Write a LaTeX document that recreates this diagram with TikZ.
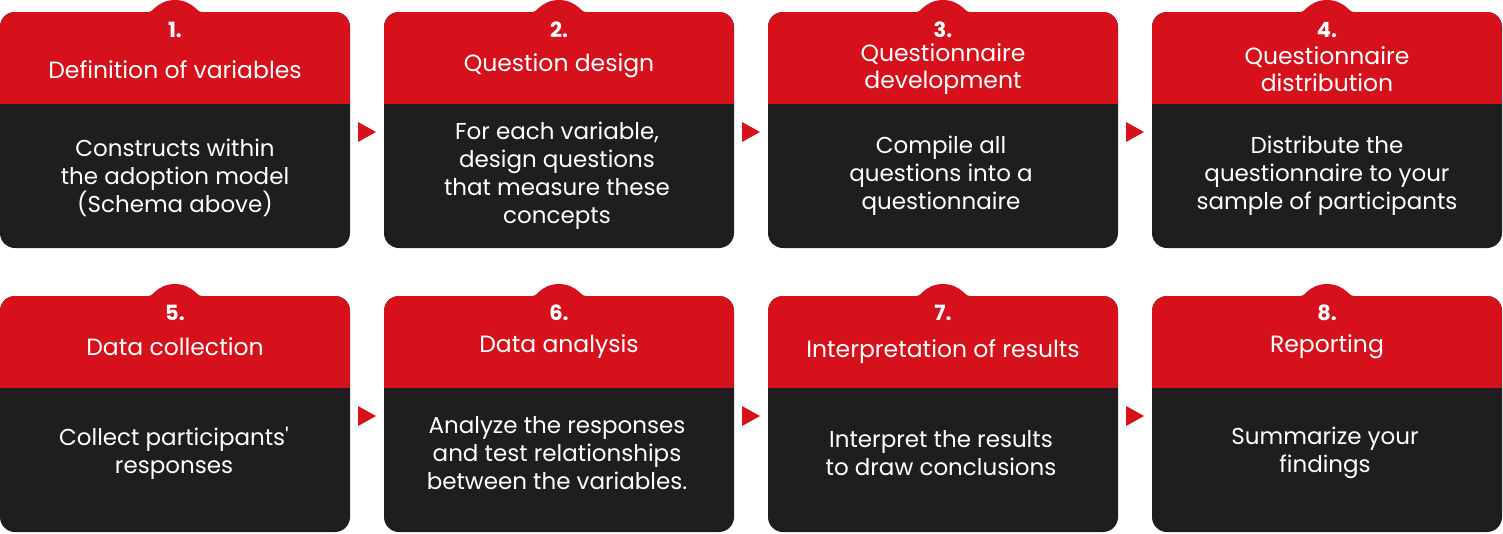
\documentclass[tikz,border=0pt]{standalone}
\usepackage{fontspec}
\setmainfont{Poppins}
\definecolor{cardred}{HTML}{D7111C}
\definecolor{cardblack}{HTML}{1E1E1E}
\tikzset{
  numtext/.style={text=white,inner sep=0pt,font=\bfseries\fontsize{21}{24}\selectfont},
  titletext/.style={text=white,inner sep=0pt,align=center,font=\fontsize{23.5}{27}\selectfont},
  bodytext/.style={text=white,inner sep=0pt,align=center,font=\fontsize{23}{28}\selectfont},
}
% card: #1 name, #2 left x, #3 top y
\newcommand\stepcard[3]{%
  % tab on top, with small fillets where it meets the card
  \fill[cardred] (#2+147.3,#3-2.5) rectangle (#2+202.7,#3);
  \fill[white] (#2+147.3,#3-8) circle[radius=8];
  \fill[white] (#2+202.7,#3-8) circle[radius=8];
  \fill[cardred] (#2+175,#3+18) circle[radius=30];
  % body of the card
  \fill[cardblack,rounded corners=15] (#2,#3) rectangle (#2+350,#3+236);
  \begin{scope}
    \clip[rounded corners=15] (#2,#3) rectangle (#2+350,#3+236);
    \fill[cardred] (#2,#3) rectangle (#2+350,#3+92);
  \end{scope}
  \coordinate (#1) at (#2+175,#3);
}
% small triangle pointing to the next card
\newcommand\nextmark[1]{%
  \fill[cardred] (#1) ++(-9,-10) -- ++(18,10) -- ++(-18,10) -- cycle;
}
\begin{document}
\begin{tikzpicture}[x=1pt,y=-1pt]
\useasboundingbox (0,0) rectangle (1503,533);
\stepcard{c1}{0}{12}
\stepcard{c2}{384}{12}
\stepcard{c3}{768}{12}
\stepcard{c4}{1152}{12}
\stepcard{c5}{0}{296}
\stepcard{c6}{384}{296}
\stepcard{c7}{768}{296}
\stepcard{c8}{1152}{296}

% row 1
\node[numtext] (n1) at (175,30) {1.};
\node[titletext] (t1) at (175,69.5) {Definition of variables};
\node[bodytext] (b1) at (175,178) {Constructs within\\the adoption model\\(Schema above)};

\node[numtext] (n2) at (559,30) {2.};
\node[titletext] (t2) at (559,65.5) {Question design};
\node[bodytext] (b2) at (557,176) {For each variable,\\design questions\\that measure these\\concepts};

\node[numtext] (n3) at (943,30) {3.};
\node[titletext] (t3) at (943,69) {Questionnaire\\development};
\node[bodytext] (b3) at (941,176) {Compile all\\questions into a\\questionnaire};

\node[numtext] (n4) at (1327,30) {4.};
\node[titletext] (t4) at (1327,69) {Questionnaire\\distribution};
\node[bodytext] (b4) at (1327,176) {Distribute the\\questionnaire to your\\sample of participants};

% row 2
\node[numtext] (n5) at (175,313) {5.};
\node[titletext] (t5) at (175,346.5) {Data collection};
\node[bodytext] (b5) at (174,453) {Collect participants\textquotesingle\\responses};

\node[numtext] (n6) at (559,313) {6.};
\node[titletext] (t6) at (559,346.5) {Data analysis};
\node[bodytext] (b6) at (557,453) {Analyze the responses\\and test relationships\\between the variables.};

\node[numtext] (n7) at (943,313) {7.};
\node[titletext] (t7) at (943,351.5) {Interpretation of results};
\node[bodytext] (b7) at (941,453) {Interpret the results\\to draw conclusions};

\node[numtext] (n8) at (1327,313) {8.};
\node[titletext] (t8) at (1327,346.5) {Reporting};
\node[bodytext] (b8) at (1325,453) {Summarize your\\findings};

% markers between cards
\coordinate (m12) at (367,132);
\coordinate (m23) at (751,132);
\coordinate (m34) at (1135,132);
\coordinate (m56) at (367,416);
\coordinate (m67) at (751,416);
\coordinate (m78) at (1135,416);
\nextmark{m12}\nextmark{m23}\nextmark{m34}
\nextmark{m56}\nextmark{m67}\nextmark{m78}
\end{tikzpicture}
\end{document}
